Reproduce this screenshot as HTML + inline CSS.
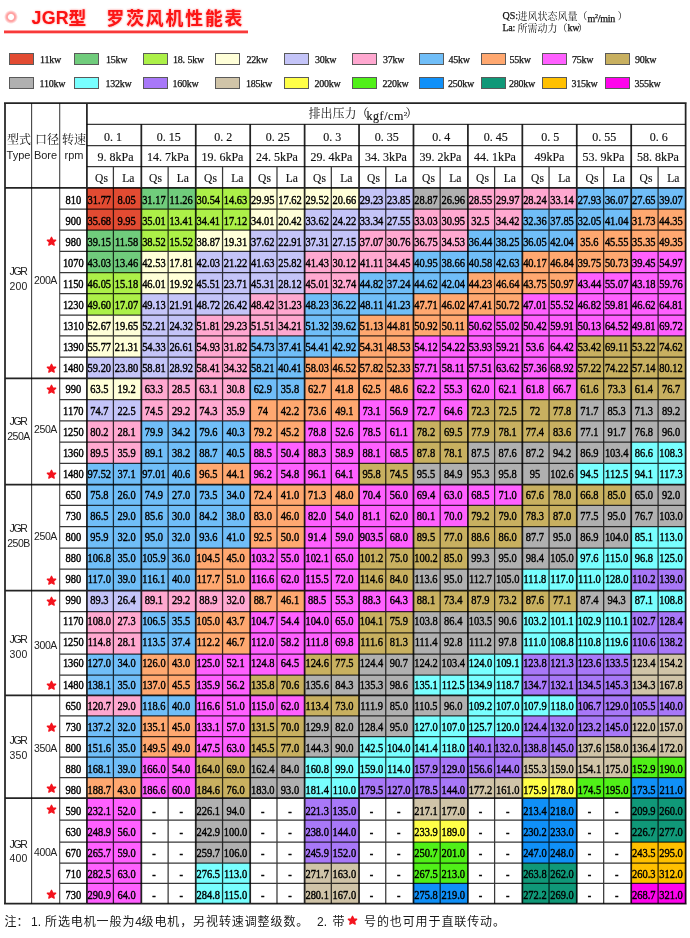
<!DOCTYPE html>
<html><head><meta charset="utf-8"><title>JGR</title>
<style>
*{margin:0;padding:0;box-sizing:border-box}
html,body{width:690px;height:938px;background:#fff;overflow:hidden}
body{position:relative;font-family:"Liberation Serif",serif;color:#000}
div,i,b,u,s,em,svg{position:absolute;display:block;font-style:normal;font-weight:normal;text-decoration:none}
.w{left:0;top:0;width:690px;height:938px;will-change:transform}
.k{background:rgba(0,0,0,.8)}
.k2{background:rgba(0,0,0,.86)}
.kg{background:#444}
.bg{left:0;width:690px}
.bg i{top:0;height:100%}
.tl{left:0;top:0;width:766.7px;height:938px;transform:scale(0.9,1);transform-origin:0 0}
.tr{left:0;width:100%;height:20px;line-height:20px}
.tr i{top:0;height:100%;text-align:center;font-size:11.6px;white-space:nowrap;overflow:visible;-webkit-text-stroke:0.4px #000}
.r{background:#E24B32}
.g{background:#70CC7C}
.l{background:#ACF048}
.c{background:#FFFFD8}
.v{background:#C4C4F8}
.p{background:#FFA8D0}
.s{background:#70BEF8}
.o{background:#FFA870}
.m{background:#FF60FF}
.t{background:#C8B060}
.G{background:#B0B0B0}
.C{background:#78FFFF}
.P{background:#A878F8}
.B{background:#D0C4A8}
.Y{background:#FFFF48}
.N{background:#50F018}
.U{background:#1090F8}
.T{background:#109878}
.A{background:#FFC000}
.M{background:#FF04EC}
.d0{left:87px;width:54px}
.q0{left:95.67px;width:29.44px}
.a0{left:125.11px;width:31.03px}
.d1{left:141px;width:55px}
.q1{left:156.14px;width:29.78px}
.a1{left:185.92px;width:30.70px}
.d2{left:196px;width:54px}
.q2{left:216.62px;width:29.78px}
.a2{left:246.40px;width:30.70px}
.d3{left:250px;width:55px}
.q3{left:277.10px;width:29.78px}
.a3{left:306.88px;width:30.70px}
.d4{left:305px;width:54px}
.q4{left:337.58px;width:29.67px}
.a4{left:367.24px;width:30.81px}
.d5{left:359px;width:54px}
.q5{left:398.06px;width:29.67px}
.a5{left:427.72px;width:30.81px}
.d6{left:413px;width:55px}
.q6{left:458.53px;width:29.67px}
.a6{left:488.20px;width:30.81px}
.d7{left:468px;width:54px}
.q7{left:519.01px;width:29.67px}
.a7{left:548.68px;width:30.81px}
.d8{left:522px;width:55px}
.q8{left:579.49px;width:29.67px}
.a8{left:609.16px;width:30.81px}
.d9{left:577px;width:54px}
.q9{left:639.97px;width:29.89px}
.a9{left:669.86px;width:30.59px}
.d10{left:631px;width:55px}
.q10{left:700.44px;width:29.89px}
.a10{left:730.33px;width:30.59px}
.n{left:66.33px;width:30.33px}
.h{font-size:12px;text-align:center;white-space:nowrap;line-height:14px;height:14px;color:#111;-webkit-text-stroke:0.15px #111}
.h em{position:static;display:inline-block;width:6px;text-align:left}
.sn{font-family:"Liberation Sans",sans-serif;color:#222;white-space:nowrap}
.sw{width:25px;height:12px;border:1px solid #5a5a5a}
.lb{font-size:10px;line-height:12px;white-space:nowrap;color:#111;letter-spacing:-0.25px;-webkit-text-stroke:0.25px #111}
.lb em{position:static;display:inline-block;width:5px;text-align:left}
.tj{left:31.5px;top:7.5px;font:bold 17.8px/20px "Liberation Sans",sans-serif;color:#FC1212;letter-spacing:0.3px;text-shadow:0 0 2px rgba(255,40,40,.55)}
.fn{font:12px/14px "Liberation Sans",sans-serif;color:#1a1a1a;white-space:nowrap}
</style></head>
<body>
<div class="w">
<div class="bg" style="top:188px;height:21px"><i class="d0 r"></i><i class="d1 g"></i><i class="d2 l"></i><i class="d3 c"></i><i class="d4 c"></i><i class="d5 v"></i><i class="d6 G"></i><i class="d7 p"></i><i class="d8 p"></i><i class="d9 s"></i><i class="d10 s"></i></div>
<div class="bg" style="top:209px;height:21px"><i class="d0 r"></i><i class="d1 l"></i><i class="d2 l"></i><i class="d3 c"></i><i class="d4 v"></i><i class="d5 v"></i><i class="d6 p"></i><i class="d7 p"></i><i class="d8 s"></i><i class="d9 s"></i><i class="d10 o"></i></div>
<div class="bg" style="top:230px;height:21px"><i class="d0 g"></i><i class="d1 l"></i><i class="d2 c"></i><i class="d3 v"></i><i class="d4 v"></i><i class="d5 p"></i><i class="d6 p"></i><i class="d7 s"></i><i class="d8 s"></i><i class="d9 o"></i><i class="d10 o"></i></div>
<div class="bg" style="top:251px;height:21px"><i class="d0 g"></i><i class="d1 c"></i><i class="d2 v"></i><i class="d3 v"></i><i class="d4 p"></i><i class="d5 p"></i><i class="d6 s"></i><i class="d7 s"></i><i class="d8 o"></i><i class="d9 o"></i><i class="d10 m"></i></div>
<div class="bg" style="top:272px;height:22px"><i class="d0 l"></i><i class="d1 c"></i><i class="d2 v"></i><i class="d3 v"></i><i class="d4 p"></i><i class="d5 s"></i><i class="d6 s"></i><i class="d7 o"></i><i class="d8 o"></i><i class="d9 m"></i><i class="d10 m"></i></div>
<div class="bg" style="top:294px;height:21px"><i class="d0 l"></i><i class="d1 v"></i><i class="d2 v"></i><i class="d3 p"></i><i class="d4 s"></i><i class="d5 s"></i><i class="d6 o"></i><i class="d7 o"></i><i class="d8 m"></i><i class="d9 m"></i><i class="d10 m"></i></div>
<div class="bg" style="top:315px;height:21px"><i class="d0 c"></i><i class="d1 v"></i><i class="d2 p"></i><i class="d3 p"></i><i class="d4 s"></i><i class="d5 o"></i><i class="d6 o"></i><i class="d7 m"></i><i class="d8 m"></i><i class="d9 m"></i><i class="d10 m"></i></div>
<div class="bg" style="top:336px;height:21px"><i class="d0 c"></i><i class="d1 v"></i><i class="d2 p"></i><i class="d3 s"></i><i class="d4 s"></i><i class="d5 o"></i><i class="d6 m"></i><i class="d7 m"></i><i class="d8 m"></i><i class="d9 t"></i><i class="d10 t"></i></div>
<div class="bg" style="top:357px;height:21px"><i class="d0 v"></i><i class="d1 v"></i><i class="d2 p"></i><i class="d3 s"></i><i class="d4 o"></i><i class="d5 o"></i><i class="d6 m"></i><i class="d7 m"></i><i class="d8 m"></i><i class="d9 t"></i><i class="d10 t"></i></div>
<div class="bg" style="top:378px;height:22px"><i class="d0 c"></i><i class="d1 p"></i><i class="d2 p"></i><i class="d3 s"></i><i class="d4 o"></i><i class="d5 o"></i><i class="d6 m"></i><i class="d7 m"></i><i class="d8 m"></i><i class="d9 t"></i><i class="d10 t"></i></div>
<div class="bg" style="top:400px;height:21px"><i class="d0 v"></i><i class="d1 p"></i><i class="d2 p"></i><i class="d3 o"></i><i class="d4 o"></i><i class="d5 m"></i><i class="d6 m"></i><i class="d7 t"></i><i class="d8 t"></i><i class="d9 G"></i><i class="d10 G"></i></div>
<div class="bg" style="top:421px;height:21px"><i class="d0 p"></i><i class="d1 s"></i><i class="d2 s"></i><i class="d3 o"></i><i class="d4 m"></i><i class="d5 m"></i><i class="d6 t"></i><i class="d7 t"></i><i class="d8 t"></i><i class="d9 G"></i><i class="d10 G"></i></div>
<div class="bg" style="top:442px;height:21px"><i class="d0 p"></i><i class="d1 s"></i><i class="d2 s"></i><i class="d3 m"></i><i class="d4 m"></i><i class="d5 m"></i><i class="d6 t"></i><i class="d7 G"></i><i class="d8 G"></i><i class="d9 G"></i><i class="d10 C"></i></div>
<div class="bg" style="top:463px;height:21px"><i class="d0 s"></i><i class="d1 s"></i><i class="d2 o"></i><i class="d3 m"></i><i class="d4 m"></i><i class="d5 t"></i><i class="d6 G"></i><i class="d7 G"></i><i class="d8 G"></i><i class="d9 C"></i><i class="d10 C"></i></div>
<div class="bg" style="top:484px;height:21px"><i class="d0 s"></i><i class="d1 s"></i><i class="d2 s"></i><i class="d3 o"></i><i class="d4 o"></i><i class="d5 m"></i><i class="d6 m"></i><i class="d7 m"></i><i class="d8 t"></i><i class="d9 t"></i><i class="d10 G"></i></div>
<div class="bg" style="top:505px;height:22px"><i class="d0 s"></i><i class="d1 s"></i><i class="d2 s"></i><i class="d3 o"></i><i class="d4 m"></i><i class="d5 m"></i><i class="d6 m"></i><i class="d7 t"></i><i class="d8 t"></i><i class="d9 G"></i><i class="d10 G"></i></div>
<div class="bg" style="top:527px;height:21px"><i class="d0 s"></i><i class="d1 s"></i><i class="d2 s"></i><i class="d3 o"></i><i class="d4 m"></i><i class="d5 m"></i><i class="d6 t"></i><i class="d7 t"></i><i class="d8 G"></i><i class="d9 G"></i><i class="d10 C"></i></div>
<div class="bg" style="top:548px;height:21px"><i class="d0 s"></i><i class="d1 s"></i><i class="d2 o"></i><i class="d3 m"></i><i class="d4 m"></i><i class="d5 t"></i><i class="d6 t"></i><i class="d7 G"></i><i class="d8 G"></i><i class="d9 C"></i><i class="d10 C"></i></div>
<div class="bg" style="top:569px;height:21px"><i class="d0 s"></i><i class="d1 s"></i><i class="d2 o"></i><i class="d3 m"></i><i class="d4 m"></i><i class="d5 t"></i><i class="d6 G"></i><i class="d7 G"></i><i class="d8 C"></i><i class="d9 C"></i><i class="d10 P"></i></div>
<div class="bg" style="top:590px;height:22px"><i class="d0 v"></i><i class="d1 p"></i><i class="d2 p"></i><i class="d3 o"></i><i class="d4 m"></i><i class="d5 m"></i><i class="d6 t"></i><i class="d7 t"></i><i class="d8 t"></i><i class="d9 G"></i><i class="d10 C"></i></div>
<div class="bg" style="top:612px;height:21px"><i class="d0 p"></i><i class="d1 s"></i><i class="d2 o"></i><i class="d3 m"></i><i class="d4 m"></i><i class="d5 t"></i><i class="d6 G"></i><i class="d7 G"></i><i class="d8 C"></i><i class="d9 C"></i><i class="d10 P"></i></div>
<div class="bg" style="top:633px;height:21px"><i class="d0 p"></i><i class="d1 s"></i><i class="d2 o"></i><i class="d3 m"></i><i class="d4 m"></i><i class="d5 t"></i><i class="d6 G"></i><i class="d7 G"></i><i class="d8 C"></i><i class="d9 C"></i><i class="d10 P"></i></div>
<div class="bg" style="top:654px;height:21px"><i class="d0 s"></i><i class="d1 o"></i><i class="d2 m"></i><i class="d3 m"></i><i class="d4 t"></i><i class="d5 G"></i><i class="d6 G"></i><i class="d7 C"></i><i class="d8 P"></i><i class="d9 P"></i><i class="d10 B"></i></div>
<div class="bg" style="top:675px;height:20px"><i class="d0 s"></i><i class="d1 o"></i><i class="d2 m"></i><i class="d3 t"></i><i class="d4 G"></i><i class="d5 G"></i><i class="d6 C"></i><i class="d7 C"></i><i class="d8 P"></i><i class="d9 P"></i><i class="d10 B"></i></div>
<div class="bg" style="top:695px;height:21px"><i class="d0 p"></i><i class="d1 s"></i><i class="d2 m"></i><i class="d3 m"></i><i class="d4 t"></i><i class="d5 G"></i><i class="d6 G"></i><i class="d7 C"></i><i class="d8 C"></i><i class="d9 P"></i><i class="d10 P"></i></div>
<div class="bg" style="top:716px;height:21px"><i class="d0 s"></i><i class="d1 o"></i><i class="d2 m"></i><i class="d3 t"></i><i class="d4 G"></i><i class="d5 G"></i><i class="d6 C"></i><i class="d7 C"></i><i class="d8 P"></i><i class="d9 P"></i><i class="d10 B"></i></div>
<div class="bg" style="top:737px;height:20px"><i class="d0 s"></i><i class="d1 o"></i><i class="d2 m"></i><i class="d3 t"></i><i class="d4 G"></i><i class="d5 C"></i><i class="d6 C"></i><i class="d7 P"></i><i class="d8 P"></i><i class="d9 B"></i><i class="d10 B"></i></div>
<div class="bg" style="top:757px;height:21px"><i class="d0 s"></i><i class="d1 m"></i><i class="d2 t"></i><i class="d3 G"></i><i class="d4 C"></i><i class="d5 C"></i><i class="d6 P"></i><i class="d7 P"></i><i class="d8 B"></i><i class="d9 B"></i><i class="d10 N"></i></div>
<div class="bg" style="top:778px;height:20px"><i class="d0 o"></i><i class="d1 m"></i><i class="d2 t"></i><i class="d3 G"></i><i class="d4 C"></i><i class="d5 P"></i><i class="d6 P"></i><i class="d7 B"></i><i class="d8 Y"></i><i class="d9 N"></i><i class="d10 U"></i></div>
<div class="bg" style="top:798px;height:22px"><i class="d0 m"></i><i class="d2 G"></i><i class="d4 P"></i><i class="d6 B"></i><i class="d8 U"></i><i class="d10 T"></i></div>
<div class="bg" style="top:820px;height:22px"><i class="d0 m"></i><i class="d2 G"></i><i class="d4 P"></i><i class="d6 Y"></i><i class="d8 U"></i><i class="d10 T"></i></div>
<div class="bg" style="top:842px;height:21px"><i class="d0 m"></i><i class="d2 G"></i><i class="d4 P"></i><i class="d6 N"></i><i class="d8 U"></i><i class="d10 A"></i></div>
<div class="bg" style="top:863px;height:20px"><i class="d0 m"></i><i class="d2 C"></i><i class="d4 B"></i><i class="d6 N"></i><i class="d8 T"></i><i class="d10 A"></i></div>
<div class="bg" style="top:883px;height:21px"><i class="d0 m"></i><i class="d2 C"></i><i class="d4 B"></i><i class="d6 U"></i><i class="d8 T"></i><i class="d10 M"></i></div>
<svg style="left:0;top:0" width="690" height="938" viewBox="0 0 690 938" fill="none"><path d="M86.9 124.3H685.63M86.9 145.5H685.63M86.9 166.7H685.63M59.7 209H685.63M59.7 230.1H685.63M59.7 251.3H685.63M59.7 272.5H685.63M59.7 293.7H685.63M59.7 315H685.63M59.7 335.8H685.63M59.7 357.2H685.63M59.7 399.6H685.63M59.7 420.8H685.63M59.7 442H685.63M59.7 463.3H685.63M59.7 505.3H685.63M59.7 526.7H685.63M59.7 548H685.63M59.7 569.2H685.63M59.7 611.7H685.63M59.7 632.8H685.63M59.7 654.2H685.63M59.7 675H685.63M59.7 715.8H685.63M59.7 736.7H685.63M59.7 757.2H685.63M59.7 777.5H685.63M59.7 820H685.63M59.7 842H685.63M59.7 863.2H685.63M59.7 883.3H685.63M113.4 166.7V903.7M168.13 166.7V903.7M222.56 166.7V903.7M276.99 166.7V903.7M331.32 166.7V903.7M385.75 166.7V903.7M440.18 166.7V903.7M494.61 166.7V903.7M549.04 166.7V903.7M603.67 166.7V903.7M658.1 166.7V903.7" stroke="#000" stroke-opacity=".78" stroke-width="1.25"/><path d="M31.6 103.2V903.7M59.7 103.2V903.7" stroke="#444" stroke-width="1.1"/><path d="M4 103.2H686.63M5 187.8H685.63M5 378.3H685.63M5 484.5H685.63M5 590.5H685.63M5 695.3H685.63M5 798.2H685.63M4 903.7H686.63M5 103.2V903.7M86.9 103.2V903.7M141.33 124.3V903.7M195.76 124.3V903.7M250.19 124.3V903.7M304.62 124.3V903.7M359.05 124.3V903.7M413.48 124.3V903.7M467.91 124.3V903.7M522.34 124.3V903.7M576.77 124.3V903.7M631.2 124.3V903.7M685.63 103.2V903.7" stroke="#000" stroke-opacity=".86" stroke-width="1.75"/></svg>
<div class="tl"><div class="tr" style="top:190.80px"><i class="n">810</i><i class="q0">31.77</i><i class="a0">8.05</i><i class="q1">31.17</i><i class="a1">11.26</i><i class="q2">30.54</i><i class="a2">14.63</i><i class="q3">29.95</i><i class="a3">17.62</i><i class="q4">29.52</i><i class="a4">20.66</i><i class="q5">29.23</i><i class="a5">23.85</i><i class="q6">28.87</i><i class="a6">26.96</i><i class="q7">28.55</i><i class="a7">29.97</i><i class="q8">28.24</i><i class="a8">33.14</i><i class="q9">27.93</i><i class="a9">36.07</i><i class="q10">27.65</i><i class="a10">39.07</i></div><div class="tr" style="top:211.88px"><i class="n">900</i><i class="q0">35.68</i><i class="a0">9.95</i><i class="q1">35.01</i><i class="a1">13.41</i><i class="q2">34.41</i><i class="a2">17.12</i><i class="q3">34.01</i><i class="a3">20.42</i><i class="q4">33.62</i><i class="a4">24.22</i><i class="q5">33.34</i><i class="a5">27.55</i><i class="q6">33.03</i><i class="a6">30.95</i><i class="q7">32.5</i><i class="a7">34.42</i><i class="q8">32.36</i><i class="a8">37.85</i><i class="q9">32.05</i><i class="a9">41.04</i><i class="q10">31.73</i><i class="a10">44.35</i></div><div class="tr" style="top:232.95px"><i class="n">980</i><i class="q0">39.15</i><i class="a0">11.58</i><i class="q1">38.52</i><i class="a1">15.52</i><i class="q2">38.87</i><i class="a2">19.31</i><i class="q3">37.62</i><i class="a3">22.91</i><i class="q4">37.31</i><i class="a4">27.15</i><i class="q5">37.07</i><i class="a5">30.76</i><i class="q6">36.75</i><i class="a6">34.53</i><i class="q7">36.44</i><i class="a7">38.25</i><i class="q8">36.05</i><i class="a8">42.04</i><i class="q9">35.6</i><i class="a9">45.55</i><i class="q10">35.35</i><i class="a10">49.35</i></div><div class="tr" style="top:254.02px"><i class="n">1070</i><i class="q0">43.03</i><i class="a0">13.46</i><i class="q1">42.53</i><i class="a1">17.81</i><i class="q2">42.03</i><i class="a2">21.22</i><i class="q3">41.63</i><i class="a3">25.82</i><i class="q4">41.43</i><i class="a4">30.12</i><i class="q5">41.11</i><i class="a5">34.45</i><i class="q6">40.95</i><i class="a6">38.66</i><i class="q7">40.58</i><i class="a7">42.63</i><i class="q8">40.17</i><i class="a8">46.84</i><i class="q9">39.75</i><i class="a9">50.73</i><i class="q10">39.45</i><i class="a10">54.97</i></div><div class="tr" style="top:275.10px"><i class="n">1150</i><i class="q0">46.05</i><i class="a0">15.18</i><i class="q1">46.01</i><i class="a1">19.92</i><i class="q2">45.51</i><i class="a2">23.71</i><i class="q3">45.31</i><i class="a3">28.12</i><i class="q4">45.01</i><i class="a4">32.74</i><i class="q5">44.82</i><i class="a5">37.24</i><i class="q6">44.62</i><i class="a6">42.04</i><i class="q7">44.23</i><i class="a7">46.64</i><i class="q8">43.75</i><i class="a8">50.97</i><i class="q9">43.44</i><i class="a9">55.07</i><i class="q10">43.18</i><i class="a10">59.76</i></div><div class="tr" style="top:296.18px"><i class="n">1230</i><i class="q0">49.60</i><i class="a0">17.07</i><i class="q1">49.13</i><i class="a1">21.91</i><i class="q2">48.72</i><i class="a2">26.42</i><i class="q3">48.42</i><i class="a3">31.23</i><i class="q4">48.23</i><i class="a4">36.22</i><i class="q5">48.11</i><i class="a5">41.23</i><i class="q6">47.71</i><i class="a6">46.02</i><i class="q7">47.41</i><i class="a7">50.72</i><i class="q8">47.01</i><i class="a8">55.52</i><i class="q9">46.82</i><i class="a9">59.81</i><i class="q10">46.62</i><i class="a10">64.81</i></div><div class="tr" style="top:317.25px"><i class="n">1310</i><i class="q0">52.67</i><i class="a0">19.65</i><i class="q1">52.21</i><i class="a1">24.32</i><i class="q2">51.81</i><i class="a2">29.23</i><i class="q3">51.51</i><i class="a3">34.21</i><i class="q4">51.32</i><i class="a4">39.62</i><i class="q5">51.13</i><i class="a5">44.81</i><i class="q6">50.92</i><i class="a6">50.11</i><i class="q7">50.62</i><i class="a7">55.02</i><i class="q8">50.42</i><i class="a8">59.91</i><i class="q9">50.13</i><i class="a9">64.52</i><i class="q10">49.81</i><i class="a10">69.72</i></div><div class="tr" style="top:338.33px"><i class="n">1390</i><i class="q0">55.77</i><i class="a0">21.31</i><i class="q1">54.33</i><i class="a1">26.61</i><i class="q2">54.93</i><i class="a2">31.82</i><i class="q3">54.73</i><i class="a3">37.41</i><i class="q4">54.41</i><i class="a4">42.92</i><i class="q5">54.31</i><i class="a5">48.53</i><i class="q6">54.12</i><i class="a6">54.22</i><i class="q7">53.93</i><i class="a7">59.21</i><i class="q8">53.6</i><i class="a8">64.42</i><i class="q9">53.42</i><i class="a9">69.11</i><i class="q10">53.22</i><i class="a10">74.62</i></div><div class="tr" style="top:359.40px"><i class="n">1480</i><i class="q0">59.20</i><i class="a0">23.80</i><i class="q1">58.81</i><i class="a1">28.92</i><i class="q2">58.41</i><i class="a2">34.32</i><i class="q3">58.21</i><i class="a3">40.41</i><i class="q4">58.03</i><i class="a4">46.52</i><i class="q5">57.82</i><i class="a5">52.33</i><i class="q6">57.71</i><i class="a6">58.11</i><i class="q7">57.51</i><i class="a7">63.62</i><i class="q8">57.36</i><i class="a8">68.92</i><i class="q9">57.22</i><i class="a9">74.22</i><i class="q10">57.14</i><i class="a10">80.12</i></div><div class="tr" style="top:380.48px"><i class="n">990</i><i class="q0">63.5</i><i class="a0">19.2</i><i class="q1">63.3</i><i class="a1">28.5</i><i class="q2">63.1</i><i class="a2">30.8</i><i class="q3">62.9</i><i class="a3">35.8</i><i class="q4">62.7</i><i class="a4">41.8</i><i class="q5">62.5</i><i class="a5">48.6</i><i class="q6">62.2</i><i class="a6">55.3</i><i class="q7">62.0</i><i class="a7">62.1</i><i class="q8">61.8</i><i class="a8">66.7</i><i class="q9">61.6</i><i class="a9">73.3</i><i class="q10">61.4</i><i class="a10">76.7</i></div><div class="tr" style="top:401.55px"><i class="n">1170</i><i class="q0">74.7</i><i class="a0">22.5</i><i class="q1">74.5</i><i class="a1">29.2</i><i class="q2">74.3</i><i class="a2">35.9</i><i class="q3">74</i><i class="a3">42.2</i><i class="q4">73.6</i><i class="a4">49.1</i><i class="q5">73.1</i><i class="a5">56.9</i><i class="q6">72.7</i><i class="a6">64.6</i><i class="q7">72.3</i><i class="a7">72.5</i><i class="q8">72</i><i class="a8">77.8</i><i class="q9">71.7</i><i class="a9">85.3</i><i class="q10">71.3</i><i class="a10">89.2</i></div><div class="tr" style="top:422.62px"><i class="n">1250</i><i class="q0">80.2</i><i class="a0">28.1</i><i class="q1">79.9</i><i class="a1">34.2</i><i class="q2">79.6</i><i class="a2">40.3</i><i class="q3">79.2</i><i class="a3">45.2</i><i class="q4">78.8</i><i class="a4">52.6</i><i class="q5">78.5</i><i class="a5">61.1</i><i class="q6">78.2</i><i class="a6">69.5</i><i class="q7">77.9</i><i class="a7">78.1</i><i class="q8">77.4</i><i class="a8">83.6</i><i class="q9">77.1</i><i class="a9">91.7</i><i class="q10">76.8</i><i class="a10">96.0</i></div><div class="tr" style="top:443.70px"><i class="n">1360</i><i class="q0">89.5</i><i class="a0">35.9</i><i class="q1">89.1</i><i class="a1">38.2</i><i class="q2">88.7</i><i class="a2">40.5</i><i class="q3">88.5</i><i class="a3">50.4</i><i class="q4">88.3</i><i class="a4">58.9</i><i class="q5">88.1</i><i class="a5">68.5</i><i class="q6">87.8</i><i class="a6">78.1</i><i class="q7">87.5</i><i class="a7">87.6</i><i class="q8">87.2</i><i class="a8">94.2</i><i class="q9">86.9</i><i class="a9">103.4</i><i class="q10">86.6</i><i class="a10">108.3</i></div><div class="tr" style="top:464.77px"><i class="n">1480</i><i class="q0">97.52</i><i class="a0">37.1</i><i class="q1">97.01</i><i class="a1">40.6</i><i class="q2">96.5</i><i class="a2">44.1</i><i class="q3">96.2</i><i class="a3">54.8</i><i class="q4">96.1</i><i class="a4">64.1</i><i class="q5">95.8</i><i class="a5">74.5</i><i class="q6">95.5</i><i class="a6">84.9</i><i class="q7">95.3</i><i class="a7">95.8</i><i class="q8">95</i><i class="a8">102.6</i><i class="q9">94.5</i><i class="a9">112.5</i><i class="q10">94.1</i><i class="a10">117.3</i></div><div class="tr" style="top:485.85px"><i class="n">650</i><i class="q0">75.8</i><i class="a0">26.0</i><i class="q1">74.9</i><i class="a1">27.0</i><i class="q2">73.5</i><i class="a2">34.0</i><i class="q3">72.4</i><i class="a3">41.0</i><i class="q4">71.3</i><i class="a4">48.0</i><i class="q5">70.4</i><i class="a5">56.0</i><i class="q6">69.4</i><i class="a6">63.0</i><i class="q7">68.5</i><i class="a7">71.0</i><i class="q8">67.6</i><i class="a8">78.0</i><i class="q9">66.8</i><i class="a9">85.0</i><i class="q10">65.0</i><i class="a10">92.0</i></div><div class="tr" style="top:506.92px"><i class="n">730</i><i class="q0">86.5</i><i class="a0">29.0</i><i class="q1">85.6</i><i class="a1">30.0</i><i class="q2">84.2</i><i class="a2">38.0</i><i class="q3">83.0</i><i class="a3">46.0</i><i class="q4">82.0</i><i class="a4">54.0</i><i class="q5">81.1</i><i class="a5">62.0</i><i class="q6">80.1</i><i class="a6">70.0</i><i class="q7">79.2</i><i class="a7">79.0</i><i class="q8">78.3</i><i class="a8">87.0</i><i class="q9">77.5</i><i class="a9">95.0</i><i class="q10">76.7</i><i class="a10">103.0</i></div><div class="tr" style="top:528.00px"><i class="n">800</i><i class="q0">95.9</i><i class="a0">32.0</i><i class="q1">95.0</i><i class="a1">32.0</i><i class="q2">93.6</i><i class="a2">41.0</i><i class="q3">92.5</i><i class="a3">50.0</i><i class="q4">91.4</i><i class="a4">59.0</i><i class="q5">903.5</i><i class="a5">68.0</i><i class="q6">89.5</i><i class="a6">77.0</i><i class="q7">88.6</i><i class="a7">86.0</i><i class="q8">87.7</i><i class="a8">95.0</i><i class="q9">86.9</i><i class="a9">104.0</i><i class="q10">85.1</i><i class="a10">113.0</i></div><div class="tr" style="top:549.08px"><i class="n">880</i><i class="q0">106.8</i><i class="a0">35.0</i><i class="q1">105.9</i><i class="a1">36.0</i><i class="q2">104.5</i><i class="a2">45.0</i><i class="q3">103.2</i><i class="a3">55.0</i><i class="q4">102.1</i><i class="a4">65.0</i><i class="q5">101.2</i><i class="a5">75.0</i><i class="q6">100.2</i><i class="a6">85.0</i><i class="q7">99.3</i><i class="a7">95.0</i><i class="q8">98.4</i><i class="a8">105.0</i><i class="q9">97.6</i><i class="a9">115.0</i><i class="q10">96.8</i><i class="a10">125.0</i></div><div class="tr" style="top:570.15px"><i class="n">980</i><i class="q0">117.0</i><i class="a0">39.0</i><i class="q1">116.1</i><i class="a1">40.0</i><i class="q2">117.7</i><i class="a2">51.0</i><i class="q3">116.6</i><i class="a3">62.0</i><i class="q4">115.5</i><i class="a4">72.0</i><i class="q5">114.6</i><i class="a5">84.0</i><i class="q6">113.6</i><i class="a6">95.0</i><i class="q7">112.7</i><i class="a7">105.0</i><i class="q8">111.8</i><i class="a8">117.0</i><i class="q9">111.0</i><i class="a9">128.0</i><i class="q10">110.2</i><i class="a10">139.0</i></div><div class="tr" style="top:591.23px"><i class="n">990</i><i class="q0">89.3</i><i class="a0">26.4</i><i class="q1">89.1</i><i class="a1">29.2</i><i class="q2">88.9</i><i class="a2">32.0</i><i class="q3">88.7</i><i class="a3">46.1</i><i class="q4">88.5</i><i class="a4">55.3</i><i class="q5">88.3</i><i class="a5">64.3</i><i class="q6">88.1</i><i class="a6">73.4</i><i class="q7">87.9</i><i class="a7">73.2</i><i class="q8">87.6</i><i class="a8">77.1</i><i class="q9">87.4</i><i class="a9">94.3</i><i class="q10">87.1</i><i class="a10">108.8</i></div><div class="tr" style="top:612.30px"><i class="n">1170</i><i class="q0">108.0</i><i class="a0">27.3</i><i class="q1">106.5</i><i class="a1">35.5</i><i class="q2">105.0</i><i class="a2">43.7</i><i class="q3">104.7</i><i class="a3">54.4</i><i class="q4">104.0</i><i class="a4">65.0</i><i class="q5">104.1</i><i class="a5">75.9</i><i class="q6">103.8</i><i class="a6">86.4</i><i class="q7">103.5</i><i class="a7">90.6</i><i class="q8">103.2</i><i class="a8">101.1</i><i class="q9">102.9</i><i class="a9">110.1</i><i class="q10">102.7</i><i class="a10">128.4</i></div><div class="tr" style="top:633.38px"><i class="n">1250</i><i class="q0">114.8</i><i class="a0">28.1</i><i class="q1">113.5</i><i class="a1">37.4</i><i class="q2">112.2</i><i class="a2">46.7</i><i class="q3">112.0</i><i class="a3">58.2</i><i class="q4">111.8</i><i class="a4">69.8</i><i class="q5">111.6</i><i class="a5">81.3</i><i class="q6">111.4</i><i class="a6">92.8</i><i class="q7">111.2</i><i class="a7">97.8</i><i class="q8">111.0</i><i class="a8">108.8</i><i class="q9">110.8</i><i class="a9">119.6</i><i class="q10">110.6</i><i class="a10">138.2</i></div><div class="tr" style="top:654.45px"><i class="n">1360</i><i class="q0">127.0</i><i class="a0">34.0</i><i class="q1">126.0</i><i class="a1">43.0</i><i class="q2">125.0</i><i class="a2">52.1</i><i class="q3">124.8</i><i class="a3">64.5</i><i class="q4">124.6</i><i class="a4">77.5</i><i class="q5">124.4</i><i class="a5">90.7</i><i class="q6">124.2</i><i class="a6">103.4</i><i class="q7">124.0</i><i class="a7">109.1</i><i class="q8">123.8</i><i class="a8">121.3</i><i class="q9">123.6</i><i class="a9">133.5</i><i class="q10">123.4</i><i class="a10">154.2</i></div><div class="tr" style="top:675.52px"><i class="n">1480</i><i class="q0">138.1</i><i class="a0">35.0</i><i class="q1">137.0</i><i class="a1">45.5</i><i class="q2">135.9</i><i class="a2">56.2</i><i class="q3">135.8</i><i class="a3">70.6</i><i class="q4">135.6</i><i class="a4">84.3</i><i class="q5">135.3</i><i class="a5">98.6</i><i class="q6">135.1</i><i class="a6">112.5</i><i class="q7">134.9</i><i class="a7">118.7</i><i class="q8">134.7</i><i class="a8">132.1</i><i class="q9">134.5</i><i class="a9">145.3</i><i class="q10">134.3</i><i class="a10">167.8</i></div><div class="tr" style="top:696.60px"><i class="n">650</i><i class="q0">120.7</i><i class="a0">29.0</i><i class="q1">118.6</i><i class="a1">40.0</i><i class="q2">116.6</i><i class="a2">51.0</i><i class="q3">115.0</i><i class="a3">62.0</i><i class="q4">113.4</i><i class="a4">73.0</i><i class="q5">111.9</i><i class="a5">85.0</i><i class="q6">110.5</i><i class="a6">96.0</i><i class="q7">109.2</i><i class="a7">107.0</i><i class="q8">107.9</i><i class="a8">118.0</i><i class="q9">106.7</i><i class="a9">129.0</i><i class="q10">105.5</i><i class="a10">140.0</i></div><div class="tr" style="top:717.67px"><i class="n">730</i><i class="q0">137.2</i><i class="a0">32.0</i><i class="q1">135.1</i><i class="a1">45.0</i><i class="q2">133.1</i><i class="a2">57.0</i><i class="q3">131.5</i><i class="a3">70.0</i><i class="q4">129.9</i><i class="a4">82.0</i><i class="q5">128.4</i><i class="a5">95.0</i><i class="q6">127.0</i><i class="a6">107.0</i><i class="q7">125.7</i><i class="a7">120.0</i><i class="q8">124.4</i><i class="a8">132.0</i><i class="q9">123.2</i><i class="a9">145.0</i><i class="q10">122.0</i><i class="a10">157.0</i></div><div class="tr" style="top:738.75px"><i class="n">800</i><i class="q0">151.6</i><i class="a0">35.0</i><i class="q1">149.5</i><i class="a1">49.0</i><i class="q2">147.5</i><i class="a2">63.0</i><i class="q3">145.5</i><i class="a3">77.0</i><i class="q4">144.3</i><i class="a4">90.0</i><i class="q5">142.5</i><i class="a5">104.0</i><i class="q6">141.4</i><i class="a6">118.0</i><i class="q7">140.1</i><i class="a7">132.0.</i><i class="q8">138.8</i><i class="a8">145.0</i><i class="q9">137.6</i><i class="a9">158.0</i><i class="q10">136.4</i><i class="a10">172.0</i></div><div class="tr" style="top:759.83px"><i class="n">880</i><i class="q0">168.1</i><i class="a0">39.0</i><i class="q1">166.0</i><i class="a1">54.0</i><i class="q2">164.0</i><i class="a2">69.0</i><i class="q3">162.4</i><i class="a3">84.0</i><i class="q4">160.8</i><i class="a4">99.0</i><i class="q5">159.0</i><i class="a5">114.0</i><i class="q6">157.9</i><i class="a6">129.0</i><i class="q7">156.6</i><i class="a7">144.0</i><i class="q8">155.3</i><i class="a8">159.0</i><i class="q9">154.1</i><i class="a9">175.0</i><i class="q10">152.9</i><i class="a10">190.0</i></div><div class="tr" style="top:780.90px"><i class="n">980</i><i class="q0">188.7</i><i class="a0">43.0</i><i class="q1">186.6</i><i class="a1">60.0</i><i class="q2">184.6</i><i class="a2">76.0</i><i class="q3">183.0</i><i class="a3">93.0</i><i class="q4">181.4</i><i class="a4">110.0</i><i class="q5">179.5</i><i class="a5">127.0</i><i class="q6">178.5</i><i class="a6">144.0</i><i class="q7">177.2</i><i class="a7">161.0</i><i class="q8">175.9</i><i class="a8">178.0</i><i class="q9">174.5</i><i class="a9">195.0</i><i class="q10">173.5</i><i class="a10">211.0</i></div><div class="tr" style="top:801.97px"><i class="n">590</i><i class="q0">232.1</i><i class="a0">52.0</i><i class="q1">-</i><i class="a1">-</i><i class="q2">226.1</i><i class="a2">94.0</i><i class="q3">-</i><i class="a3">-</i><i class="q4">221.3</i><i class="a4">135.0</i><i class="q5">-</i><i class="a5">-</i><i class="q6">217.1</i><i class="a6">177.0</i><i class="q7">-</i><i class="a7">-</i><i class="q8">213.4</i><i class="a8">218.0</i><i class="q9">-</i><i class="a9">-</i><i class="q10">209.9</i><i class="a10">260.0</i></div><div class="tr" style="top:823.05px"><i class="n">630</i><i class="q0">248.9</i><i class="a0">56.0</i><i class="q1">-</i><i class="a1">-</i><i class="q2">242.9</i><i class="a2">100.0</i><i class="q3">-</i><i class="a3">-</i><i class="q4">238.0</i><i class="a4">144.0</i><i class="q5">-</i><i class="a5">-</i><i class="q6">233.9</i><i class="a6">189.0</i><i class="q7">-</i><i class="a7">-</i><i class="q8">230.2</i><i class="a8">233.0</i><i class="q9">-</i><i class="a9">-</i><i class="q10">226.7</i><i class="a10">277.0</i></div><div class="tr" style="top:844.12px"><i class="n">670</i><i class="q0">265.7</i><i class="a0">59.0</i><i class="q1">-</i><i class="a1">-</i><i class="q2">259.7</i><i class="a2">106.0</i><i class="q3">-</i><i class="a3">-</i><i class="q4">245.9</i><i class="a4">152.0</i><i class="q5">-</i><i class="a5">-</i><i class="q6">250.7</i><i class="a6">201.0</i><i class="q7">-</i><i class="a7">-</i><i class="q8">247.0</i><i class="a8">248.0</i><i class="q9">-</i><i class="a9">-</i><i class="q10">243.5</i><i class="a10">295.0</i></div><div class="tr" style="top:865.20px"><i class="n">710</i><i class="q0">282.5</i><i class="a0">63.0</i><i class="q1">-</i><i class="a1">-</i><i class="q2">276.5</i><i class="a2">113.0</i><i class="q3">-</i><i class="a3">-</i><i class="q4">271.7</i><i class="a4">163.0</i><i class="q5">-</i><i class="a5">-</i><i class="q6">267.5</i><i class="a6">213.0</i><i class="q7">-</i><i class="a7">-</i><i class="q8">263.8</i><i class="a8">262.0</i><i class="q9">-</i><i class="a9">-</i><i class="q10">260.3</i><i class="a10">312.0</i></div><div class="tr" style="top:886.28px"><i class="n">730</i><i class="q0">290.9</i><i class="a0">64.0</i><i class="q1">-</i><i class="a1">-</i><i class="q2">284.8</i><i class="a2">115.0</i><i class="q3">-</i><i class="a3">-</i><i class="q4">280.1</i><i class="a4">167.0</i><i class="q5">-</i><i class="a5">-</i><i class="q6">275.8</i><i class="a6">219.0</i><i class="q7">-</i><i class="a7">-</i><i class="q8">272.2</i><i class="a8">269.0</i><i class="q9">-</i><i class="a9">-</i><i class="q10">268.7</i><i class="a10">321.0</i></div></div>
<b class="h" style="left:87.0px;width:52px;top:130px">0<em>.</em>1</b>
<b class="h" style="left:89.5px;width:52px;top:150px">9<em>.</em>8kPa</b>
<b class="h" style="left:89px;width:25px;top:171px;font-size:11.5px">Qs</b>
<b class="h" style="left:115.4px;width:26px;top:171px;font-size:11.5px">La</b>
<b class="h" style="left:142.3px;width:53px;top:130px">0<em>.</em>15</b>
<b class="h" style="left:141.4px;width:53px;top:150px">14<em>.</em>7kPa</b>
<b class="h" style="left:143px;width:25px;top:171px;font-size:11.5px">Qs</b>
<b class="h" style="left:169.4px;width:27px;top:171px;font-size:11.5px">La</b>
<b class="h" style="left:197.3px;width:52px;top:130px">0<em>.</em>2</b>
<b class="h" style="left:196.4px;width:52px;top:150px">19<em>.</em>6kPa</b>
<b class="h" style="left:198px;width:25px;top:171px;font-size:11.5px">Qs</b>
<b class="h" style="left:224.4px;width:26px;top:171px;font-size:11.5px">La</b>
<b class="h" style="left:251.3px;width:53px;top:130px">0<em>.</em>25</b>
<b class="h" style="left:250.4px;width:53px;top:150px">24<em>.</em>5kPa</b>
<b class="h" style="left:252px;width:25px;top:171px;font-size:11.5px">Qs</b>
<b class="h" style="left:278.4px;width:27px;top:171px;font-size:11.5px">La</b>
<b class="h" style="left:306.3px;width:52px;top:130px">0<em>.</em>3</b>
<b class="h" style="left:305.4px;width:52px;top:150px">29<em>.</em>4kPa</b>
<b class="h" style="left:307px;width:25px;top:171px;font-size:11.5px">Qs</b>
<b class="h" style="left:333.4px;width:26px;top:171px;font-size:11.5px">La</b>
<b class="h" style="left:360.3px;width:53px;top:130px">0<em>.</em>35</b>
<b class="h" style="left:359.4px;width:53px;top:150px">34<em>.</em>3kPa</b>
<b class="h" style="left:361px;width:25px;top:171px;font-size:11.5px">Qs</b>
<b class="h" style="left:387.4px;width:27px;top:171px;font-size:11.5px">La</b>
<b class="h" style="left:415.3px;width:52px;top:130px">0<em>.</em>4</b>
<b class="h" style="left:414.4px;width:52px;top:150px">39<em>.</em>2kPa</b>
<b class="h" style="left:416px;width:25px;top:171px;font-size:11.5px">Qs</b>
<b class="h" style="left:442.4px;width:26px;top:171px;font-size:11.5px">La</b>
<b class="h" style="left:469.3px;width:53px;top:130px">0<em>.</em>45</b>
<b class="h" style="left:468.4px;width:53px;top:150px">44<em>.</em>1kPa</b>
<b class="h" style="left:470px;width:25px;top:171px;font-size:11.5px">Qs</b>
<b class="h" style="left:496.4px;width:27px;top:171px;font-size:11.5px">La</b>
<b class="h" style="left:524.3px;width:52px;top:130px">0<em>.</em>5</b>
<b class="h" style="left:523.4px;width:52px;top:150px">49kPa</b>
<b class="h" style="left:525px;width:25px;top:171px;font-size:11.5px">Qs</b>
<b class="h" style="left:551.4px;width:26px;top:171px;font-size:11.5px">La</b>
<b class="h" style="left:578.3px;width:52px;top:130px">0<em>.</em>55</b>
<b class="h" style="left:577.4px;width:52px;top:150px">53<em>.</em>9kPa</b>
<b class="h" style="left:579px;width:26px;top:171px;font-size:11.5px">Qs</b>
<b class="h" style="left:606.4px;width:25px;top:171px;font-size:11.5px">La</b>
<b class="h" style="left:632.3px;width:53px;top:130px">0<em>.</em>6</b>
<b class="h" style="left:631.4px;width:53px;top:150px">58<em>.</em>8kPa</b>
<b class="h" style="left:633px;width:26px;top:171px;font-size:11.5px">Qs</b>
<b class="h" style="left:660.4px;width:26px;top:171px;font-size:11.5px">La</b>
<b class="sn" style="left:6px;width:25px;top:149px;font-size:11px;text-align:center;line-height:12px">Type</b>
<b class="sn" style="left:32px;width:27px;top:149px;font-size:11px;text-align:center;line-height:12px">Bore</b>
<b class="sn" style="left:61px;width:26px;top:149px;font-size:11px;text-align:center;line-height:12px">rpm</b>
<b class="sn" style="left:5px;width:26px;top:264.4px;font-size:10.5px;text-align:center;line-height:14px;letter-spacing:-1.4px">JGR</b>
<b class="sn" style="left:5px;width:27px;top:278.9px;font-size:10.5px;text-align:center;line-height:14px;letter-spacing:0.1px">200</b>
<b class="sn" style="left:32px;width:27px;top:273.4px;font-size:10.5px;text-align:center;line-height:14px;letter-spacing:-0.4px">200A</b>
<b class="sn" style="left:5px;width:26px;top:414.3px;font-size:10.5px;text-align:center;line-height:14px;letter-spacing:-1.4px">JGR</b>
<b class="sn" style="left:5px;width:27px;top:428.8px;font-size:10.5px;text-align:center;line-height:14px;letter-spacing:-0.5px">250A</b>
<b class="sn" style="left:32px;width:27px;top:421.9px;font-size:10.5px;text-align:center;line-height:14px;letter-spacing:-0.4px">250A</b>
<b class="sn" style="left:5px;width:26px;top:521.0px;font-size:10.5px;text-align:center;line-height:14px;letter-spacing:-1.4px">JGR</b>
<b class="sn" style="left:5px;width:27px;top:535.5px;font-size:10.5px;text-align:center;line-height:14px;letter-spacing:-0.5px">250B</b>
<b class="sn" style="left:32px;width:27px;top:529.3px;font-size:10.5px;text-align:center;line-height:14px;letter-spacing:-0.4px">250A</b>
<b class="sn" style="left:5px;width:26px;top:631.9px;font-size:10.5px;text-align:center;line-height:14px;letter-spacing:-1.4px">JGR</b>
<b class="sn" style="left:5px;width:27px;top:646.7px;font-size:10.5px;text-align:center;line-height:14px;letter-spacing:0.1px">300</b>
<b class="sn" style="left:32px;width:27px;top:637.9px;font-size:10.5px;text-align:center;line-height:14px;letter-spacing:-0.4px">300A</b>
<b class="sn" style="left:5px;width:26px;top:733.1px;font-size:10.5px;text-align:center;line-height:14px;letter-spacing:-1.4px">JGR</b>
<b class="sn" style="left:5px;width:27px;top:747.8px;font-size:10.5px;text-align:center;line-height:14px;letter-spacing:0.1px">350</b>
<b class="sn" style="left:32px;width:27px;top:741.3px;font-size:10.5px;text-align:center;line-height:14px;letter-spacing:-0.4px">350A</b>
<b class="sn" style="left:5px;width:26px;top:836.8px;font-size:10.5px;text-align:center;line-height:14px;letter-spacing:-1.4px">JGR</b>
<b class="sn" style="left:5px;width:27px;top:851.3px;font-size:10.5px;text-align:center;line-height:14px;letter-spacing:0.1px">400</b>
<b class="sn" style="left:32px;width:27px;top:844.7px;font-size:10.5px;text-align:center;line-height:14px;letter-spacing:-0.4px">400A</b>
<svg style="left:46.2px;top:236.0px" width="11" height="11" viewBox="-5.5 -5.5 11 11"><path d="M0-4.2L1.3-1.5L4.2-1.3L2 0.7L2.7 3.6L0 2.1L-2.7 3.6L-2 0.7L-4.2-1.3L-1.3-1.5Z" fill="#F4141E" stroke="#F4141E" stroke-width="1.3" stroke-linejoin="round"/></svg>
<svg style="left:46.2px;top:363.1px" width="11" height="11" viewBox="-5.5 -5.5 11 11"><path d="M0-4.2L1.3-1.5L4.2-1.3L2 0.7L2.7 3.6L0 2.1L-2.7 3.6L-2 0.7L-4.2-1.3L-1.3-1.5Z" fill="#F4141E" stroke="#F4141E" stroke-width="1.3" stroke-linejoin="round"/></svg>
<svg style="left:46.2px;top:384.3px" width="11" height="11" viewBox="-5.5 -5.5 11 11"><path d="M0-4.2L1.3-1.5L4.2-1.3L2 0.7L2.7 3.6L0 2.1L-2.7 3.6L-2 0.7L-4.2-1.3L-1.3-1.5Z" fill="#F4141E" stroke="#F4141E" stroke-width="1.3" stroke-linejoin="round"/></svg>
<svg style="left:46.2px;top:469.2px" width="11" height="11" viewBox="-5.5 -5.5 11 11"><path d="M0-4.2L1.3-1.5L4.2-1.3L2 0.7L2.7 3.6L0 2.1L-2.7 3.6L-2 0.7L-4.2-1.3L-1.3-1.5Z" fill="#F4141E" stroke="#F4141E" stroke-width="1.3" stroke-linejoin="round"/></svg>
<svg style="left:46.2px;top:575.1px" width="11" height="11" viewBox="-5.5 -5.5 11 11"><path d="M0-4.2L1.3-1.5L4.2-1.3L2 0.7L2.7 3.6L0 2.1L-2.7 3.6L-2 0.7L-4.2-1.3L-1.3-1.5Z" fill="#F4141E" stroke="#F4141E" stroke-width="1.3" stroke-linejoin="round"/></svg>
<svg style="left:46.2px;top:596.4px" width="11" height="11" viewBox="-5.5 -5.5 11 11"><path d="M0-4.2L1.3-1.5L4.2-1.3L2 0.7L2.7 3.6L0 2.1L-2.7 3.6L-2 0.7L-4.2-1.3L-1.3-1.5Z" fill="#F4141E" stroke="#F4141E" stroke-width="1.3" stroke-linejoin="round"/></svg>
<svg style="left:46.2px;top:680.4px" width="11" height="11" viewBox="-5.5 -5.5 11 11"><path d="M0-4.2L1.3-1.5L4.2-1.3L2 0.7L2.7 3.6L0 2.1L-2.7 3.6L-2 0.7L-4.2-1.3L-1.3-1.5Z" fill="#F4141E" stroke="#F4141E" stroke-width="1.3" stroke-linejoin="round"/></svg>
<svg style="left:46.2px;top:721.5px" width="11" height="11" viewBox="-5.5 -5.5 11 11"><path d="M0-4.2L1.3-1.5L4.2-1.3L2 0.7L2.7 3.6L0 2.1L-2.7 3.6L-2 0.7L-4.2-1.3L-1.3-1.5Z" fill="#F4141E" stroke="#F4141E" stroke-width="1.3" stroke-linejoin="round"/></svg>
<svg style="left:46.2px;top:783.1px" width="11" height="11" viewBox="-5.5 -5.5 11 11"><path d="M0-4.2L1.3-1.5L4.2-1.3L2 0.7L2.7 3.6L0 2.1L-2.7 3.6L-2 0.7L-4.2-1.3L-1.3-1.5Z" fill="#F4141E" stroke="#F4141E" stroke-width="1.3" stroke-linejoin="round"/></svg>
<svg style="left:46.2px;top:804.4px" width="11" height="11" viewBox="-5.5 -5.5 11 11"><path d="M0-4.2L1.3-1.5L4.2-1.3L2 0.7L2.7 3.6L0 2.1L-2.7 3.6L-2 0.7L-4.2-1.3L-1.3-1.5Z" fill="#F4141E" stroke="#F4141E" stroke-width="1.3" stroke-linejoin="round"/></svg>
<svg style="left:46.2px;top:888.8px" width="11" height="11" viewBox="-5.5 -5.5 11 11"><path d="M0-4.2L1.3-1.5L4.2-1.3L2 0.7L2.7 3.6L0 2.1L-2.7 3.6L-2 0.7L-4.2-1.3L-1.3-1.5Z" fill="#F4141E" stroke="#F4141E" stroke-width="1.3" stroke-linejoin="round"/></svg>
<s class="sw r" style="left:9px;top:53px"></s>
<b class="lb" style="left:40.0px;top:54px">11kw</b>
<s class="sw g" style="left:74px;top:53px"></s>
<b class="lb" style="left:106.0px;top:54px">15kw</b>
<s class="sw l" style="left:143px;top:53px"></s>
<b class="lb" style="left:173.0px;top:54px">18<em>.</em>5kw</b>
<s class="sw c" style="left:215px;top:53px"></s>
<b class="lb" style="left:246.5px;top:54px">22kw</b>
<s class="sw v" style="left:284px;top:53px"></s>
<b class="lb" style="left:315.0px;top:54px">30kw</b>
<s class="sw p" style="left:352px;top:53px"></s>
<b class="lb" style="left:383.0px;top:54px">37kw</b>
<s class="sw s" style="left:419px;top:53px"></s>
<b class="lb" style="left:448.5px;top:54px">45kw</b>
<s class="sw o" style="left:481px;top:53px"></s>
<b class="lb" style="left:509.5px;top:54px">55kw</b>
<s class="sw m" style="left:542px;top:53px"></s>
<b class="lb" style="left:572.0px;top:54px">75kw</b>
<s class="sw t" style="left:605px;top:53px"></s>
<b class="lb" style="left:635.0px;top:54px">90kw</b>
<s class="sw G" style="left:9px;top:77px"></s>
<b class="lb" style="left:39.5px;top:78px">110kw</b>
<s class="sw C" style="left:74px;top:77px"></s>
<b class="lb" style="left:105.5px;top:78px">132kw</b>
<s class="sw P" style="left:143px;top:77px"></s>
<b class="lb" style="left:172.5px;top:78px">160kw</b>
<s class="sw B" style="left:215px;top:77px"></s>
<b class="lb" style="left:246.0px;top:78px">185kw</b>
<s class="sw Y" style="left:284px;top:77px"></s>
<b class="lb" style="left:314.5px;top:78px">200kw</b>
<s class="sw N" style="left:352px;top:77px"></s>
<b class="lb" style="left:382.5px;top:78px">220kw</b>
<s class="sw U" style="left:419px;top:77px"></s>
<b class="lb" style="left:448.0px;top:78px">250kw</b>
<s class="sw T" style="left:481px;top:77px"></s>
<b class="lb" style="left:509.0px;top:78px">280kw</b>
<s class="sw A" style="left:542px;top:77px"></s>
<b class="lb" style="left:571.5px;top:78px">315kw</b>
<s class="sw M" style="left:605px;top:77px"></s>
<b class="lb" style="left:634.5px;top:78px">355kw</b>
<svg style="left:0;top:0" width="690" height="938" viewBox="0 0 690 938"><defs><filter id="gl" x="-5%" y="-30%" width="110%" height="160%"><feGaussianBlur in="SourceGraphic" stdDeviation="0.9" result="b"/><feComponentTransfer in="b" result="c"><feFuncA type="linear" slope="0.55"/></feComponentTransfer><feMerge><feMergeNode in="c"/><feMergeNode in="SourceGraphic"/></feMerge></filter></defs><g filter="url(#gl)" font-family="'Liberation Sans','Noto Sans CJK SC',sans-serif" font-weight="bold" font-size="17.8" fill="#FC1212"><text x="68.5" y="24.5">型</text><text x="106.5" y="24.5" style="letter-spacing:1.9px">罗茨风机性能表</text></g>
<g font-family="'Liberation Serif','Noto Serif CJK SC',serif" fill="#111">
<text x="308.5" y="118.3" font-size="12">排出压力（</text>
<text x="405.5" y="118.3" font-size="12">）</text>
<text x="7" y="144.2" font-size="12">型式</text>
<text x="35" y="144.2" font-size="12">口径</text>
<text x="62" y="144.2" font-size="12">转速</text>
<text x="517.5" y="19.5" font-size="10">进风状态风量（</text>
<text x="617.5" y="19.5" font-size="10">）</text>
<text x="517.5" y="31.7" font-size="10">所需动力（</text>
<text x="577.5" y="31.7" font-size="10">）</text>
</g>
<g font-family="'Liberation Sans','Noto Sans CJK SC',sans-serif" font-size="12" fill="#1a1a1a">
<text x="4.5" y="926.2">注：</text>
<text x="45" y="926.2" style="letter-spacing:0.9px">所选电机一般为</text>
<text x="141.5" y="926.2" style="letter-spacing:0.9px">级电机，另视转速调整级数。</text>
<text x="332.5" y="926.2">带</text>
<text x="364" y="926.2" style="letter-spacing:0.9px">号的也可用于直联传动。</text>
</g></svg>
<b class="tj">JGR</b>
<s style="left:3.9px;top:9.9px;width:14px;height:14px;border-radius:50%;background:radial-gradient(circle closest-side,#fff 0,#fff 36%,#FF9C9C 52%,#FFA8A8 66%,rgba(255,190,190,.6) 84%,rgba(255,255,255,0) 100%)"></s>
<s style="left:4px;top:30px;width:244px;height:1px;background:#FF9A9A"></s>
<s style="left:4px;top:31px;width:244px;height:2px;background:#F83A3A"></s>
<s style="left:4px;top:33px;width:244px;height:1px;background:#FFC0C0"></s>
<b class="lb" style="left:502.5px;top:10px;letter-spacing:0">QS:</b>
<b class="lb" style="left:502.5px;top:22.2px">La:</b>
<b class="lb" style="left:587.5px;top:10px">m<span style="font-size:6px;vertical-align:4px">2</span>/min</b>
<b class="lb" style="left:567.5px;top:22.2px">kw</b>
<b class="h" style="left:366.5px;top:107px;text-align:left;letter-spacing:0.55px">kgf/cm<span style="font-size:7px;vertical-align:4px;letter-spacing:0">2</span></b>
<b class="fn" style="left:31px;top:915px">1.</b>
<b class="fn" style="left:135.3px;top:915px">4</b>
<b class="fn" style="left:317px;top:915px">2.</b>
<svg style="left:347.0px;top:915.0px" width="11" height="11" viewBox="-5.5 -5.5 11 11"><path d="M0-4.2L1.3-1.5L4.2-1.3L2 0.7L2.7 3.6L0 2.1L-2.7 3.6L-2 0.7L-4.2-1.3L-1.3-1.5Z" fill="#F4141E" stroke="#F4141E" stroke-width="1.3" stroke-linejoin="round"/></svg>
</div>
</body></html>
